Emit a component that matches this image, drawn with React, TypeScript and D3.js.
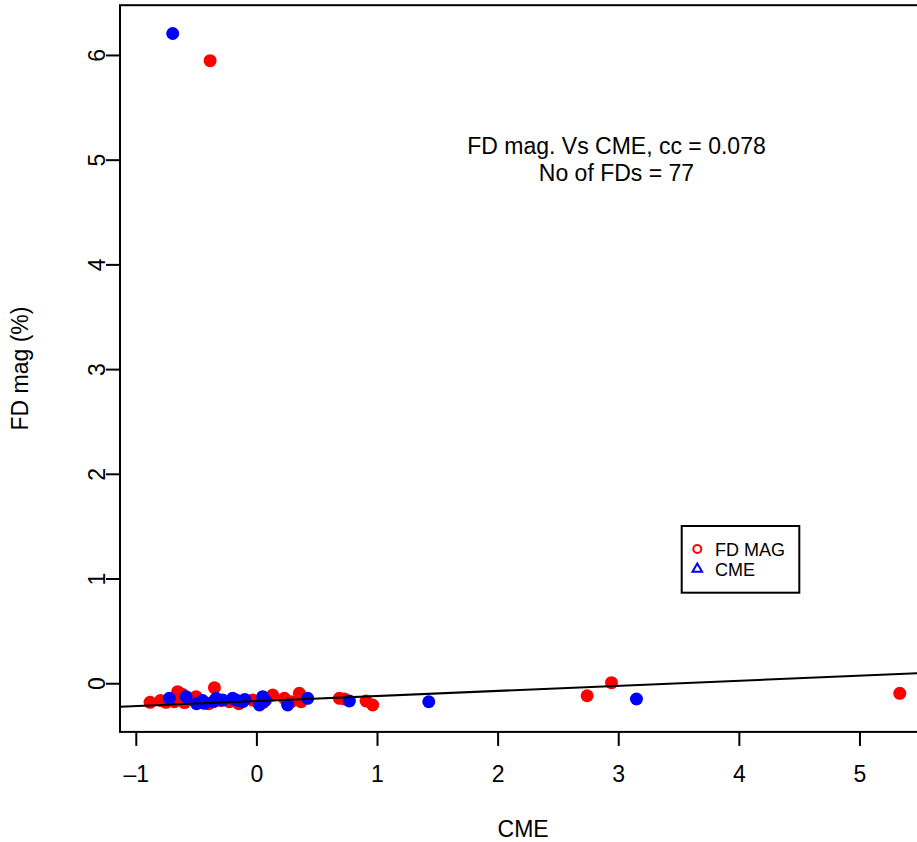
import React from 'react';
import * as d3 from 'd3';

// FD MAG points (red)
const redX = [-0.886, -0.753, -0.657, -0.684, -0.504, -0.477, -0.352, -0.228, -0.035, 0.131, 0.228, 0.284, 0.352, 0.367, 0.684, 0.725, 0.905, 0.96, 2.738, 2.94, 5.33, -0.388, -0.8, -0.6, -0.55, -0.4, -0.3, -0.15, 0.05, -0.62];
const redY = [-0.178, -0.178, -0.076, -0.172, -0.124, -0.172, -0.038, -0.172, -0.156, -0.108, -0.139, -0.172, -0.092, -0.172, -0.139, -0.146, -0.165, -0.203, -0.115, 0.01, -0.092, 5.95, -0.16, -0.18, -0.15, -0.19, -0.16, -0.19, -0.18, -0.1];

// CME points (blue)
const blueX = [-0.726, -0.587, -0.435, -0.338, -0.284, -0.201, -0.172, -0.118, 0.021, 0.048, 0.255, 0.421, 0.767, 1.425, 3.147, -0.698, -0.5, -0.36, -0.1, 0.07, -0.45];
const blueY = [-0.139, -0.124, -0.187, -0.139, -0.156, -0.139, -0.156, -0.172, -0.203, -0.124, -0.203, -0.139, -0.165, -0.172, -0.146, 6.21, -0.19, -0.17, -0.15, -0.16, -0.16];

const xTicks = [-1, 0, 1, 2, 3, 4, 5];
const yTicks = [0, 1, 2, 3, 4, 5, 6];

// fitted line
const fitIntercept = -0.165;
const fitSlope = 0.0484;

const width = 917;
const height = 842;
const font = '"Liberation Sans", Arial, Helvetica, sans-serif';

const App = () => {
  const x = d3.scaleLinear().domain([-1.135, 5.55]).range([120, 926.3]);
  const y = d3.scaleLinear().domain([-0.46, 6.48]).range([731.9, 5.2]);

  const [x0, x1] = x.range();
  const [yb, yt] = y.range();

  const fitLine = d3.line<number>()
    .x(d => x(d))
    .y(d => y(fitIntercept + fitSlope * d));

  const red = redX.map((v, i) => [v, redY[i]]);
  const blue = blueX.map((v, i) => [v, blueY[i]]);

  return (
    <svg width={width} height={height} style={{ position: 'absolute', left: 0, top: 0, background: '#fff' }} fontFamily={font}>
      <defs>
        <clipPath id="plotArea">
          <rect x={x0} y={yt} width={x1 - x0} height={yb - yt} />
        </clipPath>
      </defs>

      {/* points */}
      <g clipPath="url(#plotArea)">
        {red.map((d, i) => (
          <circle key={'r' + i} cx={x(d[0])} cy={y(d[1])} r={6.5} fill="#ff0000" />
        ))}
        {blue.map((d, i) => (
          <circle key={'b' + i} cx={x(d[0])} cy={y(d[1])} r={6.5} fill="#0000ff" />
        ))}
        <path d={fitLine(x.domain()) || ''} stroke="#000" strokeWidth={2} fill="none" />
      </g>

      {/* box */}
      <rect x={x0} y={yt} width={x1 - x0} height={yb - yt} fill="none" stroke="#000" strokeWidth={2} />

      {/* x axis */}
      <g>
        {xTicks.map(t => (
          <g key={t}>
            <line x1={x(t)} x2={x(t)} y1={yb} y2={yb + 14} stroke="#000" strokeWidth={2} />
            <text x={x(t)} y={782} textAnchor="middle" fontSize={23}>{t < 0 ? '\u2013' + Math.abs(t) : t}</text>
          </g>
        ))}
        <text x={(x0 + x1) / 2} y={837} textAnchor="middle" fontSize={23}>CME</text>
      </g>

      {/* y axis */}
      <g>
        {yTicks.map(t => (
          <g key={t}>
            <line x1={x0 - 14} x2={x0} y1={y(t)} y2={y(t)} stroke="#000" strokeWidth={2} />
            <text transform={`translate(105, ${y(t)}) rotate(-90)`} textAnchor="middle" fontSize={23}>{t}</text>
          </g>
        ))}
        <text transform={`translate(28, ${(yt + yb) / 2}) rotate(-90)`} textAnchor="middle" fontSize={23}>FD mag (%)</text>
      </g>

      {/* annotation */}
      <text x={616.5} y={154} textAnchor="middle" fontSize={23}>FD mag. Vs CME, cc = 0.078</text>
      <text x={616.5} y={181} textAnchor="middle" fontSize={23}>No of FDs = 77</text>

      {/* legend */}
      <g>
        <rect x={681.7} y={526} width={117.6} height={66.7} fill="#fff" stroke="#000" strokeWidth={2} />
        <circle cx={697.3} cy={549} r={4} fill="none" stroke="#ff0000" strokeWidth={2} />
        <path d={d3.symbol(d3.symbolTriangle, 40)() || ''} transform="translate(697.3, 569)" fill="none" stroke="#0000ff" strokeWidth={2} />
        <text x={715} y={555.5} fontSize={18}>FD MAG</text>
        <text x={715} y={575.5} fontSize={18}>CME</text>
      </g>
    </svg>
  );
};

export default App;
